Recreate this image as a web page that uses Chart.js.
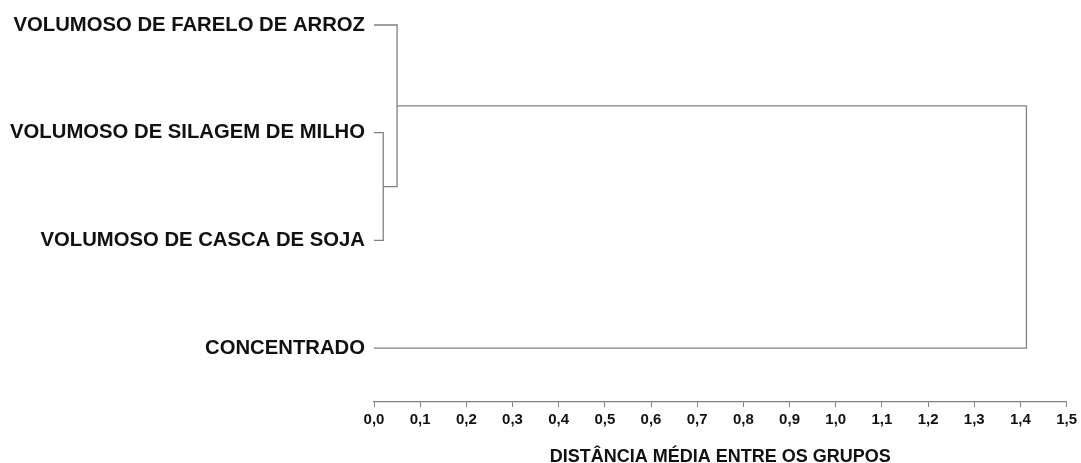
<!DOCTYPE html>
<html>
<head>
<meta charset="utf-8">
<script src="https://cdn.jsdelivr.net/npm/chart.js@4"></script>
<style>
  html, body { margin: 0; padding: 0; background: #fff; }
  #wrap { width: 1081px; height: 463px; }
</style>
</head>
<body>
<div id="wrap"><canvas id="c"></canvas></div>
<script>
// Leaves of the dendrogram, top to bottom
const leafLabels = [
  'VOLUMOSO DE FARELO DE ARROZ',
  'VOLUMOSO DE SILAGEM DE MILHO',
  'VOLUMOSO DE CASCA DE SOJA',
  'CONCENTRADO'
];
// Merges (scipy style: index >= leaves.length refers to earlier merge)
const mergeLeft = [1, 0, 5];
const mergeRight = [2, 4, 3];
const mergeHeights = [0.02, 0.05, 1.413];
// X tick labels
const xTickLabels = ['0,0', '0,1', '0,2', '0,3', '0,4', '0,5', '0,6', '0,7',
  '0,8', '0,9', '1,0', '1,1', '1,2', '1,3', '1,4', '1,5'];

const lineColor = '#808080';
const fontFamily = '"Liberation Sans", Arial, sans-serif';

// Build the link segments from the merge table
const nodeX = leafLabels.map(() => 0);
const nodeY = leafLabels.map((_, i) => i);
const segments = [];
mergeHeights.forEach((h, i) => {
  const a = mergeLeft[i], b = mergeRight[i];
  segments.push([{ x: nodeX[a], y: nodeY[a] }, { x: h, y: nodeY[a] }, { x: h, y: nodeY[b] }, { x: nodeX[b], y: nodeY[b] }]);
  nodeX.push(h);
  nodeY.push((nodeY[a] + nodeY[b]) / 2);
});

const datasets = segments.map(pts => ({
  data: pts,
  showLine: true,
  borderColor: lineColor,
  borderWidth: 1.3,
  pointRadius: 0,
  fill: false,
  tension: 0,
  clip: false
}));

new Chart(document.getElementById('c').getContext('2d'), {
  type: 'scatter',
  data: { datasets },
  options: {
    responsive: true,
    maintainAspectRatio: false,
    animation: false,
    layout: { padding: { top: 25, right: 13, left: 0, bottom: 0 } },
    plugins: { legend: { display: false }, tooltip: { enabled: false } },
    scales: {
      x: {
        type: 'linear',
        min: 0,
        max: 1.5,
        afterBuildTicks: s => { s.ticks = xTickLabels.map(t => ({ value: parseFloat(t.replace(',', '.')) })); },
        afterFit: s => { s.height = 61; },
        grid: { display: true, drawOnChartArea: false, tickLength: 5, color: lineColor },
        border: { display: true, color: lineColor, width: 1.3 },
        ticks: {
          autoSkip: false,
          maxRotation: 0,
          padding: 4,
          color: '#111',
          font: { family: fontFamily, size: 15, weight: 'bold' },
          callback: (v, i) => xTickLabels[i]
        },
        title: {
          display: true,
          text: 'DISTÂNCIA MÉDIA ENTRE OS GRUPOS',
          color: '#111',
          font: { family: fontFamily, size: 18, weight: 'bold', lineHeight: 1 },
          padding: { top: 0, bottom: -3 }
        }
      },
      y: {
        type: 'linear',
        min: 0,
        max: 3.5,
        reverse: true,
        afterBuildTicks: s => { s.ticks = leafLabels.map((_, i) => ({ value: i })); },
        afterFit: s => { s.width = 374; },
        grid: { display: false },
        border: { display: false },
        ticks: {
          autoSkip: false,
          padding: 1,
          color: '#111',
          font: { family: fontFamily, size: 20.3, weight: 'bold' },
          callback: v => leafLabels[v]
        }
      }
    }
  }
});
</script>
</body>
</html>
